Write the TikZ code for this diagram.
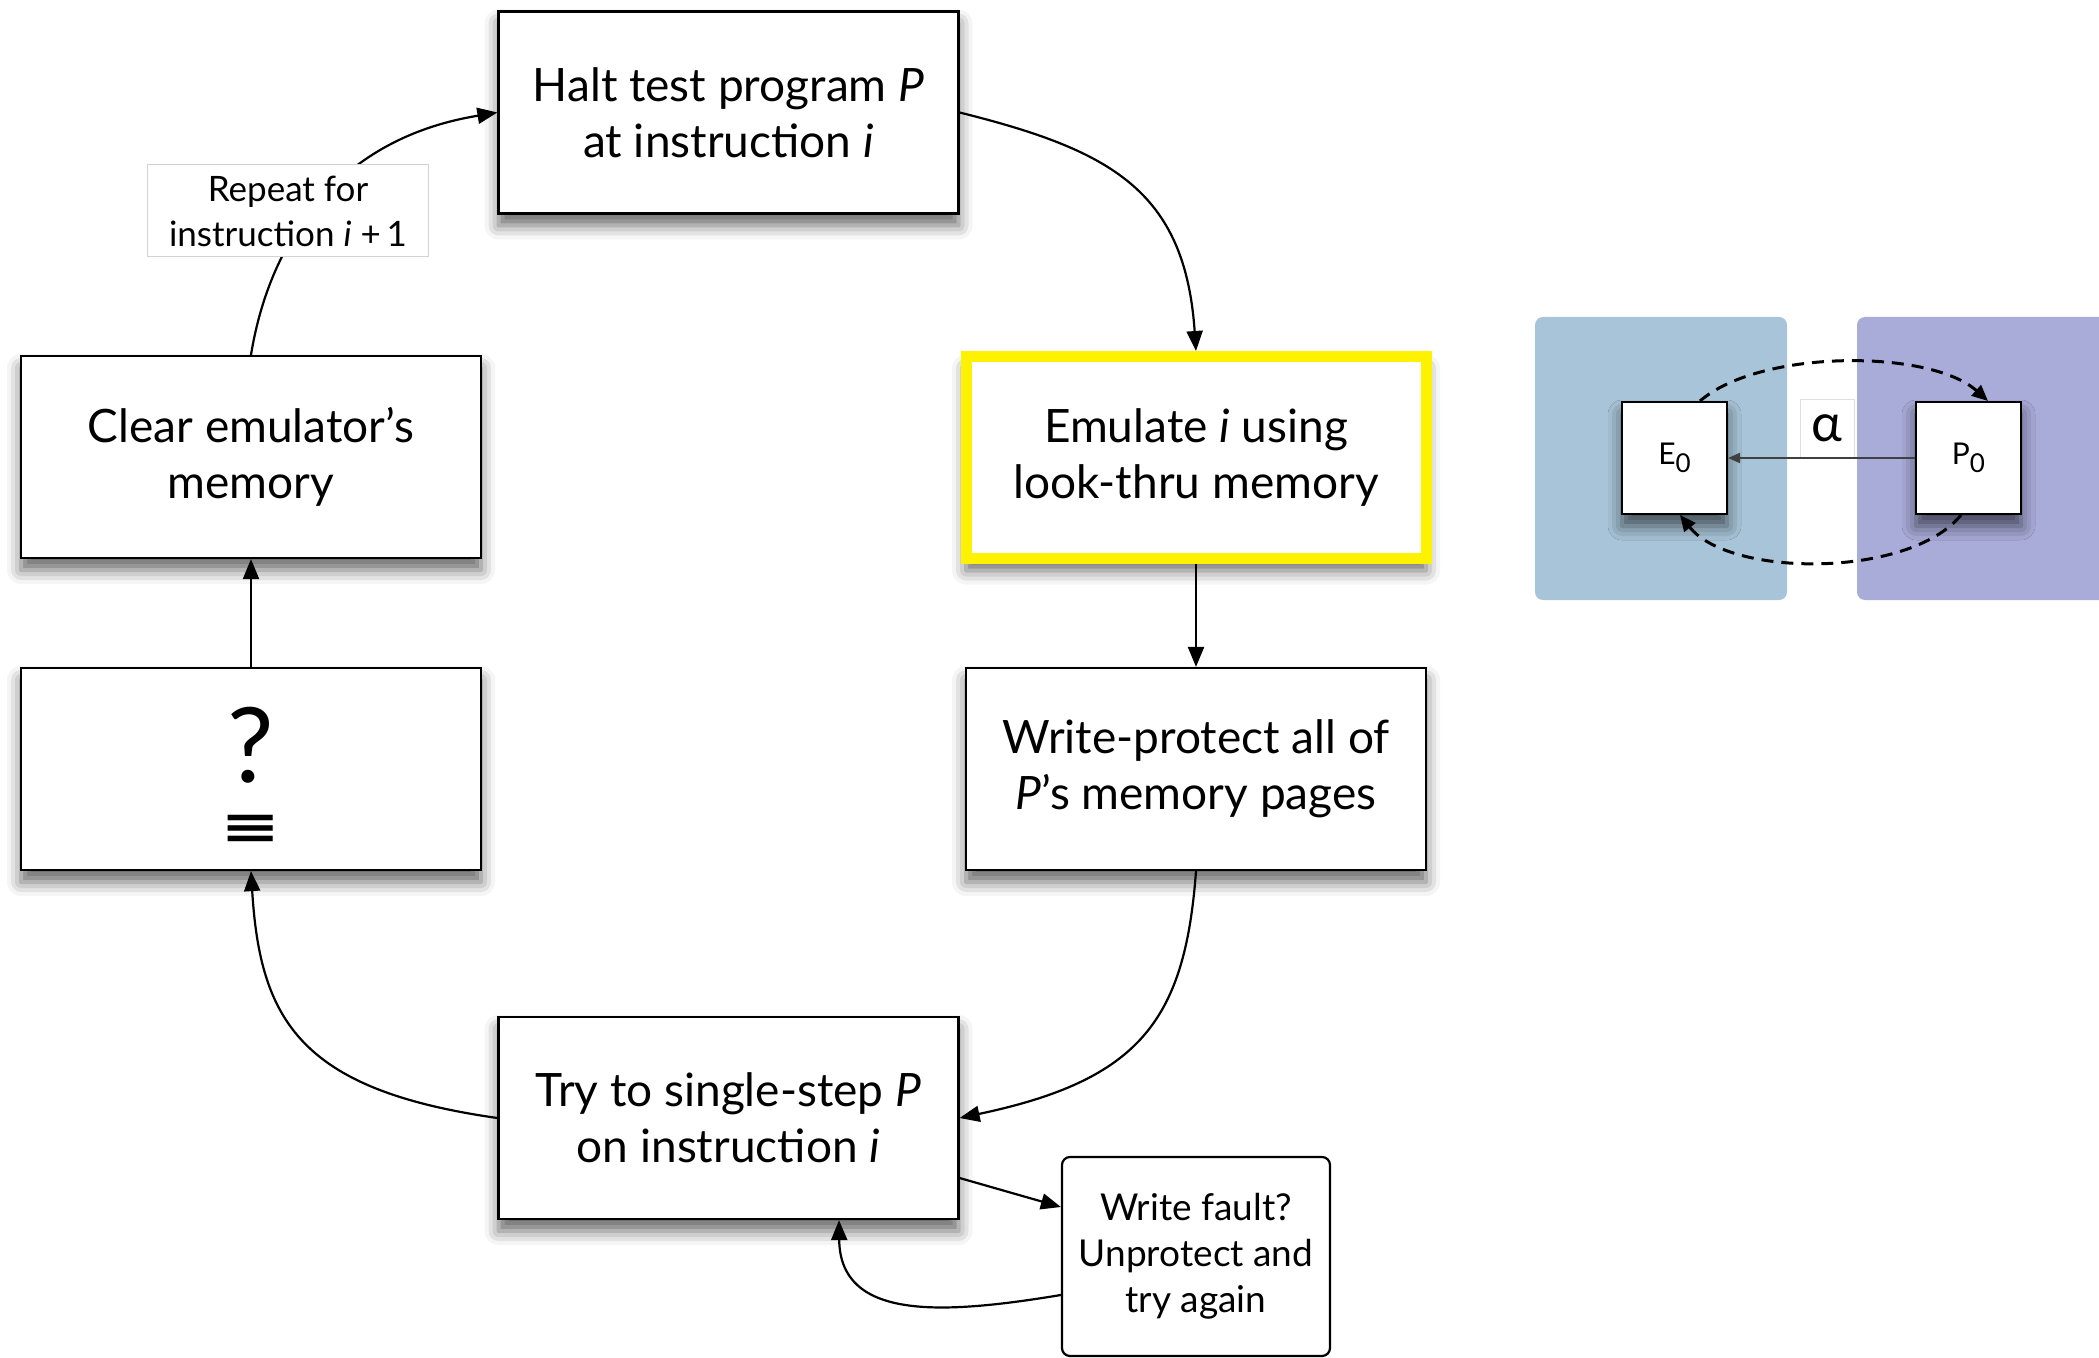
\documentclass[tikz,border=0pt]{standalone}
\usepackage{fontspec}
\setmainfont{Lato}
\newfontfamily\dejavu{DejaVu Sans}
\usetikzlibrary{arrows.meta,shadows.blur}
\definecolor{panelE}{HTML}{A8C4D8}
\definecolor{panelP}{HTML}{A9ABD8}
\begin{document}
\begin{tikzpicture}[x=0.5pt,y=-0.5pt,
  myshadow/.style={blur shadow={shadow xshift=0pt, shadow yshift=-6pt, shadow blur radius=7pt, shadow opacity=60}},
  box/.style={draw=black, line width=1.1pt, fill=white, minimum width=230pt, minimum height=101pt,
    align=center, inner sep=0pt, font=\fontsize{23}{28}\selectfont, myshadow},
  conn/.style={line width=1.1pt, -{Triangle[length=10pt,width=8pt]}},
  smallbox/.style={draw=black, line width=1pt, fill=white, minimum width=52.5pt, minimum height=56pt,
    inner sep=0pt, font=\fontsize{15}{15}\selectfont, myshadow},
  dasharrow/.style={line width=1.5pt, dash pattern=on 6pt off 4pt, -{Triangle[length=8pt,width=7pt]}},
]
\useasboundingbox (0,0) rectangle (2099,1358);

% right panel backgrounds
\fill[panelE, rounded corners=4pt] (1535,317) rectangle (1787,600);
\fill[panelP, rounded corners=4pt] (1857,317) rectangle (2130,600);

% main boxes
\node[box] (halt) at (728.5,112.5) {Halt test program \textit{P}\\at instruction \textit{i}};
\node[box, draw=yellow, line width=5.5pt] (emul) at (1196,457.5) {Emulate \textit{i} using\\look-thru memory};
\node[box] (wp) at (1196,769) {Write-protect all of\\\textit{P}'s memory pages};
\node[box] (try) at (728.5,1118) {Try to single-step \textit{P}\\on instruction \textit{i}};
\node[box] (clear) at (251,457) {Clear emulator's\\memory};
\node[box] (quest) at (251,769) {};
\node[font=\fontsize{52}{52}\selectfont, inner sep=0pt] (qmark) at (251,745) {?};
\node[font=\dejavu\bfseries\fontsize{24}{24}\selectfont, inner sep=0pt] (qeq) at (251,829) {\scalebox{1.5}[1]{≡}};

\node[draw=black, line width=1.1pt, rounded corners=4pt, fill=white, minimum width=134pt, minimum height=99.5pt,
  align=center, inner sep=0pt, font=\fontsize{18.5}{23}\selectfont] (wf) at (1196,1256.5) {Write fault?\\Unprotect and\\try again};

% connectors
\draw[conn] (halt.east) .. controls (1110,150) and (1185,190) .. (emul.north);
\draw[conn] (emul.south) -- (wp.north);
\draw[conn] (wp.south) .. controls (1185,1020) and (1140,1080) .. (try.east);
\draw[conn] (try.west) .. controls (300,1090) and (260,1020) .. (quest.south);
\draw[conn] (quest.north) -- (clear.south);
\draw[conn] (clear.north) .. controls (268,250) and (330,140) .. (halt.west);
\draw[conn] ([yshift=-30pt]try.east) -- ([yshift=24.75pt]wf.west);
\draw[conn] ([yshift=-19.25pt]wf.west) .. controls (940,1315) and (840,1320) .. ([xshift=55.25pt]try.south);

\node[draw=gray!35, line width=0.5pt, fill=white, minimum width=140.5pt, minimum height=46pt, align=center,
  inner sep=0pt, font=\fontsize{17.5}{22.5}\selectfont] (rep) at (288,211) {Repeat for\\instruction \textit{i} +\,1};

% right panel diagram
\node[smallbox] (E0) at (1674.5,458) {E\raisebox{-4pt}{\fontsize{13}{13}\selectfont 0}};
\node[smallbox] (P0) at (1968.5,458) {P\raisebox{-4pt}{\fontsize{13}{13}\selectfont 0}};
\node[draw=gray!25, fill=white, line width=0.4pt, minimum width=27pt, minimum height=29pt, inner sep=0pt,
  font=\fontsize{26}{26}\selectfont] (alpha) at (1827,428) {α};
\draw[line width=0.9pt, draw=black!75, -{Triangle[length=6pt,width=5pt]}] (P0.west) -- (E0.east);
\draw[dasharrow] ([xshift=12.75pt]E0.north) .. controls (1760,349) and (1930,349) .. ([xshift=9.75pt]P0.north);
\draw[dasharrow] ([xshift=-3.75pt]P0.south) .. controls (1910,578) and (1730,578) .. ([xshift=2.75pt]E0.south);
\end{tikzpicture}
\end{document}
